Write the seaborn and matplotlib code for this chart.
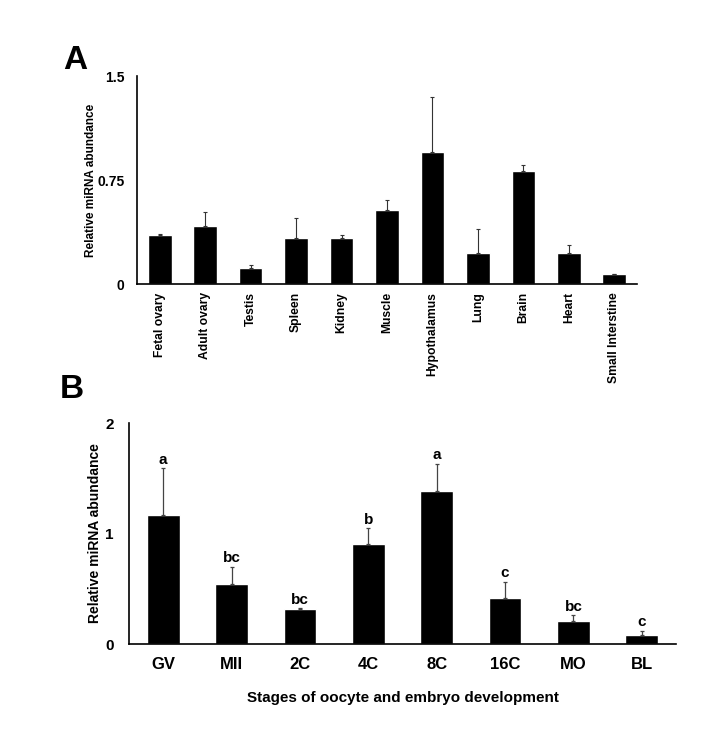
import numpy as np
import pandas as pd
import matplotlib
matplotlib.use("Agg")
import matplotlib.pyplot as plt
import seaborn as sns

tissues = ["Fetal ovary", "Adult ovary", "Testis", "Spleen", "Kidney", "Muscle",
           "Hypothalamus", "Lung", "Brain", "Heart", "Small Interstine"]
tissue_mean = [0.353, 0.418, 0.118, 0.329, 0.334, 0.534, 0.95, 0.224, 0.817, 0.221, 0.07]
tissue_err = [0.010, 0.100, 0.017, 0.145, 0.017, 0.074, 0.396, 0.170, 0.041, 0.058, 0.004]

stages = ["GV", "MII", "2C", "4C", "8C", "16C", "MO", "BL"]
stage_mean = [1.17, 0.543, 0.32, 0.908, 1.387, 0.419, 0.208, 0.079]
stage_err = [0.42, 0.154, 0.004, 0.139, 0.243, 0.145, 0.052, 0.041]
stage_letters = ["a", "bc", "bc", "b", "a", "c", "bc", "c"]

sns.set_style("white")
plt.rcParams['font.family'] = ['Liberation Sans', 'DejaVu Sans']
plt.rcParams['font.weight'] = 'bold'
plt.rcParams['text.color'] = 'black'
plt.rcParams['axes.labelcolor'] = 'black'
plt.rcParams['xtick.color'] = 'black'
plt.rcParams['ytick.color'] = 'black'

fig = plt.figure(figsize=(7.28, 7.41), dpi=100)
axA = fig.add_axes([0.1882, 0.6167, 0.6868, 0.2807])
axB = fig.add_axes([0.1772, 0.1309, 0.7514, 0.2982])

dfA = pd.DataFrame({"tissue": tissues, "value": tissue_mean})
sns.barplot(data=dfA, x="tissue", y="value", color="black", width=0.52,
            saturation=1, ax=axA, errorbar=None)
axA.errorbar(np.arange(len(tissues)), tissue_mean,
             yerr=[np.zeros(len(tissues)), tissue_err],
             fmt="none", ecolor="#333333", elinewidth=0.8, capsize=1.5, capthick=0.8)
axA.set_xlim(-0.5, len(tissues) - 0.5)
axA.set_ylim(0, 1.5)
axA.set_yticks([0, 0.75, 1.5])
axA.set_yticklabels(["0", "0.75", "1.5"], fontsize=10, fontweight="bold")
axA.set_xticks(np.arange(len(tissues)))
axA.set_xticklabels(tissues, rotation=90, fontsize=8.7, fontweight="bold", va="top")
axA.set_xlabel("")
axA.set_ylabel("Relative miRNA abundance", fontsize=8.5, fontweight="bold", labelpad=0)
axA.tick_params(axis="x", length=0, pad=6)
axA.tick_params(axis="y", length=0, pad=9)

dfB = pd.DataFrame({"stage": stages, "value": stage_mean})
sns.barplot(data=dfB, x="stage", y="value", color="black", width=0.48,
            saturation=1, ax=axB, errorbar=None)
axB.errorbar(np.arange(len(stages)), stage_mean,
             yerr=[np.zeros(len(stages)), stage_err],
             fmt="none", ecolor="#444444", elinewidth=0.9, capsize=1.5, capthick=0.9)
for i, (m, e, lab) in enumerate(zip(stage_mean, stage_err, stage_letters)):
    axB.text(i, m + e + 0.015, lab, ha="center", va="bottom", fontsize=11, fontweight="bold")
axB.set_xlim(-0.5, len(stages) - 0.5)
axB.set_ylim(0, 2)
axB.set_yticks([0, 1, 2])
axB.set_yticklabels(["0", "1", "2"], fontsize=11, fontweight="bold")
axB.set_xticks(np.arange(len(stages)))
axB.set_xticklabels(stages, fontsize=12, fontweight="bold")
axB.set_xlabel("Stages of oocyte and embryo development", fontsize=11, fontweight="bold", labelpad=14)
axB.set_ylabel("Relative miRNA abundance", fontsize=10, fontweight="bold", labelpad=2)
axB.tick_params(axis="x", length=0, pad=9)
axB.tick_params(axis="y", length=0, pad=11)

for ax in (axA, axB):
    for s in ["top", "right"]:
        ax.spines[s].set_visible(False)
    for s in ["left", "bottom"]:
        ax.spines[s].set_color("black")
        ax.spines[s].set_linewidth(1.2)

fig.text(0.104, 0.919, "A", fontsize=24, fontweight="bold", ha="center", va="center")
fig.text(0.099, 0.474, "B", fontsize=24, fontweight="bold", ha="center", va="center")

fig.savefig("out.png", dpi=100, facecolor="white")
